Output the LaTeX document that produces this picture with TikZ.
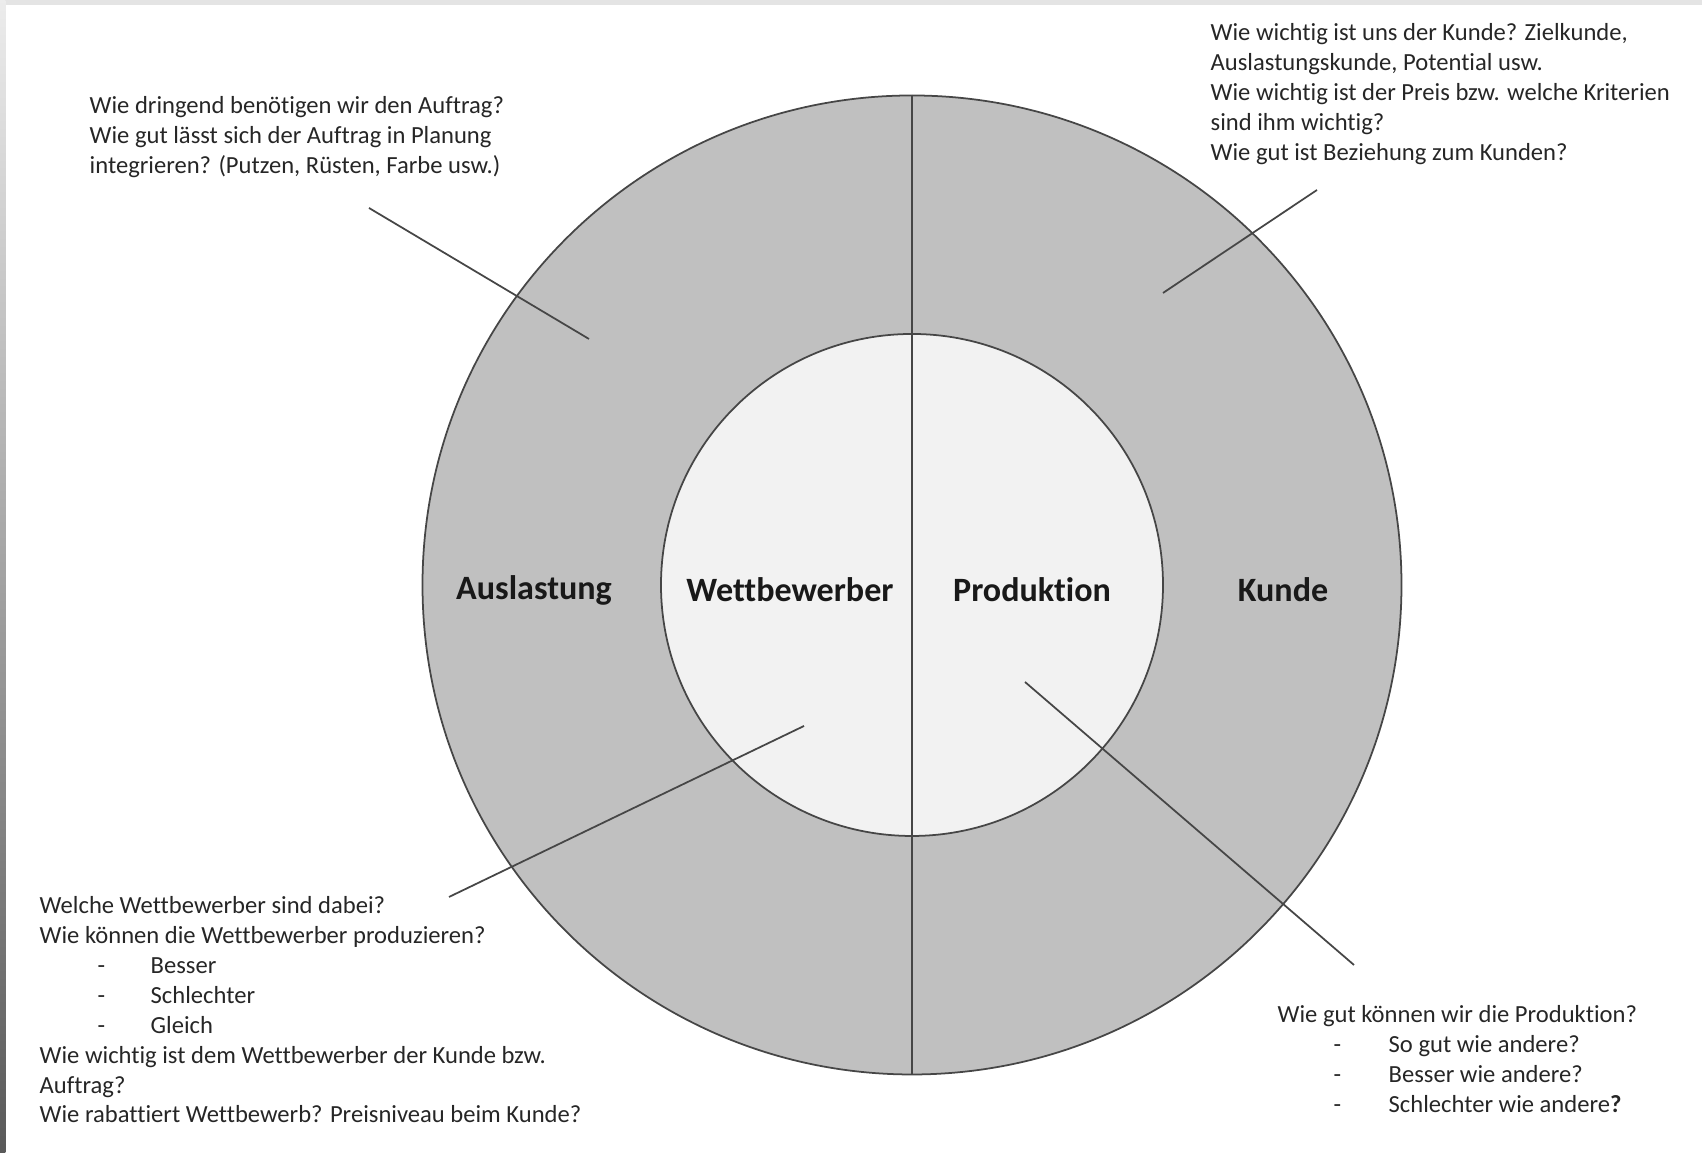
\documentclass[tikz,border=0pt]{standalone}
\usepackage{fontspec}
\setmainfont[Ligatures=NoCommon]{Carlito}
\usetikzlibrary{positioning}
\definecolor{ringgray}{RGB}{192,192,192}
\definecolor{coregray}{RGB}{242,242,242}
\definecolor{linegray}{RGB}{70,70,70}
\definecolor{framegray}{RGB}{228,228,228}

\begin{document}
\begin{tikzpicture}[
        seglbl/.style={font=\fontsize{9.7}{11}\selectfont\bfseries, text=black!90},
        qtext/.style={font=\fontsize{7}{8.5}\selectfont, align=left,
            inner sep=0pt, anchor=north west, text=black!85},
        qline/.style={linegray, line width=0.5pt},
        disc/.style={circle, draw=linegray, line width=0.5pt, inner sep=0pt}
    ]
    \useasboundingbox (0,0) rectangle (17.02,11.53);

    % === Frame strips (top and left) ===
    \fill[framegray] (0,11.48) rectangle (17.02,11.53);
    \shade[top color=gray!15, bottom color=gray!70!black] (0,0) rectangle (0.055,11.53);

    % === Rings ===
    \node[disc, fill=ringgray, minimum size=9.79cm] (ring) at (9.12,5.68) {};
    \node[disc, fill=coregray, minimum size=5.02cm] (core) at (ring) {};
    \draw[qline] (ring.north) -- (ring.south);

    % === Segment labels ===
    \node[seglbl] (ausl) at (5.34,5.63) {Auslastung};
    \node[seglbl] (wett) at (7.90,5.63) {Wettbewerber};
    \node[seglbl] (prod) at (10.32,5.63) {Produktion};
    \node[seglbl] (kund) at (12.83,5.63) {Kunde};

    % === Question blocks ===
    \node[qtext] (qausl) at (0.89,10.57)
        {Wie dringend benötigen wir den Auftrag?\\
         Wie gut lässt sich der Auftrag in Planung\\
         integrieren? (Putzen, Rüsten, Farbe usw.)};

    \node[qtext] (qkund) at (12.10,11.30)
        {Wie wichtig ist uns der Kunde? Zielkunde,\\
         Auslastungskunde, Potential usw.\\
         Wie wichtig ist der Preis bzw. welche Kriterien\\
         sind ihm wichtig?\\
         Wie gut ist Beziehung zum Kunden?};

    \node[qtext] (qwett) at (0.39,2.57)
        {Welche Wettbewerber sind dabei?\\
         Wie können die Wettbewerber produzieren?\\
         \hspace*{0.58cm}\makebox[0.53cm][l]{-}Besser\\
         \hspace*{0.58cm}\makebox[0.53cm][l]{-}Schlechter\\
         \hspace*{0.58cm}\makebox[0.53cm][l]{-}Gleich\\
         Wie wichtig ist dem Wettbewerber der Kunde bzw.\\
         Auftrag?\\
         Wie rabattiert Wettbewerb? Preisniveau beim Kunde?};

    \node[qtext] (qprod) at (12.77,1.48)
        {Wie gut können wir die Produktion?\\
         \hspace*{0.56cm}\makebox[0.55cm][l]{-}So gut wie andere?\\
         \hspace*{0.56cm}\makebox[0.55cm][l]{-}Besser wie andere?\\
         \hspace*{0.56cm}\makebox[0.55cm][l]{-}Schlechter wie andere\textbf{?}};

    % === Pointer lines ===
    \coordinate (p1a) at (3.69,9.45);
    \coordinate (p1b) at (5.89,8.14);
    \coordinate (p2a) at (13.17,9.63);
    \coordinate (p2b) at (11.63,8.60);
    \coordinate (p3a) at (4.49,2.56);
    \coordinate (p3b) at (8.04,4.27);
    \coordinate (p4a) at (10.25,4.71);
    \coordinate (p4b) at (13.54,1.88);
    \draw[qline] (p1a) -- (p1b);
    \draw[qline] (p2a) -- (p2b);
    \draw[qline] (p3a) -- (p3b);
    \draw[qline] (p4a) -- (p4b);

\end{tikzpicture}
\end{document}
